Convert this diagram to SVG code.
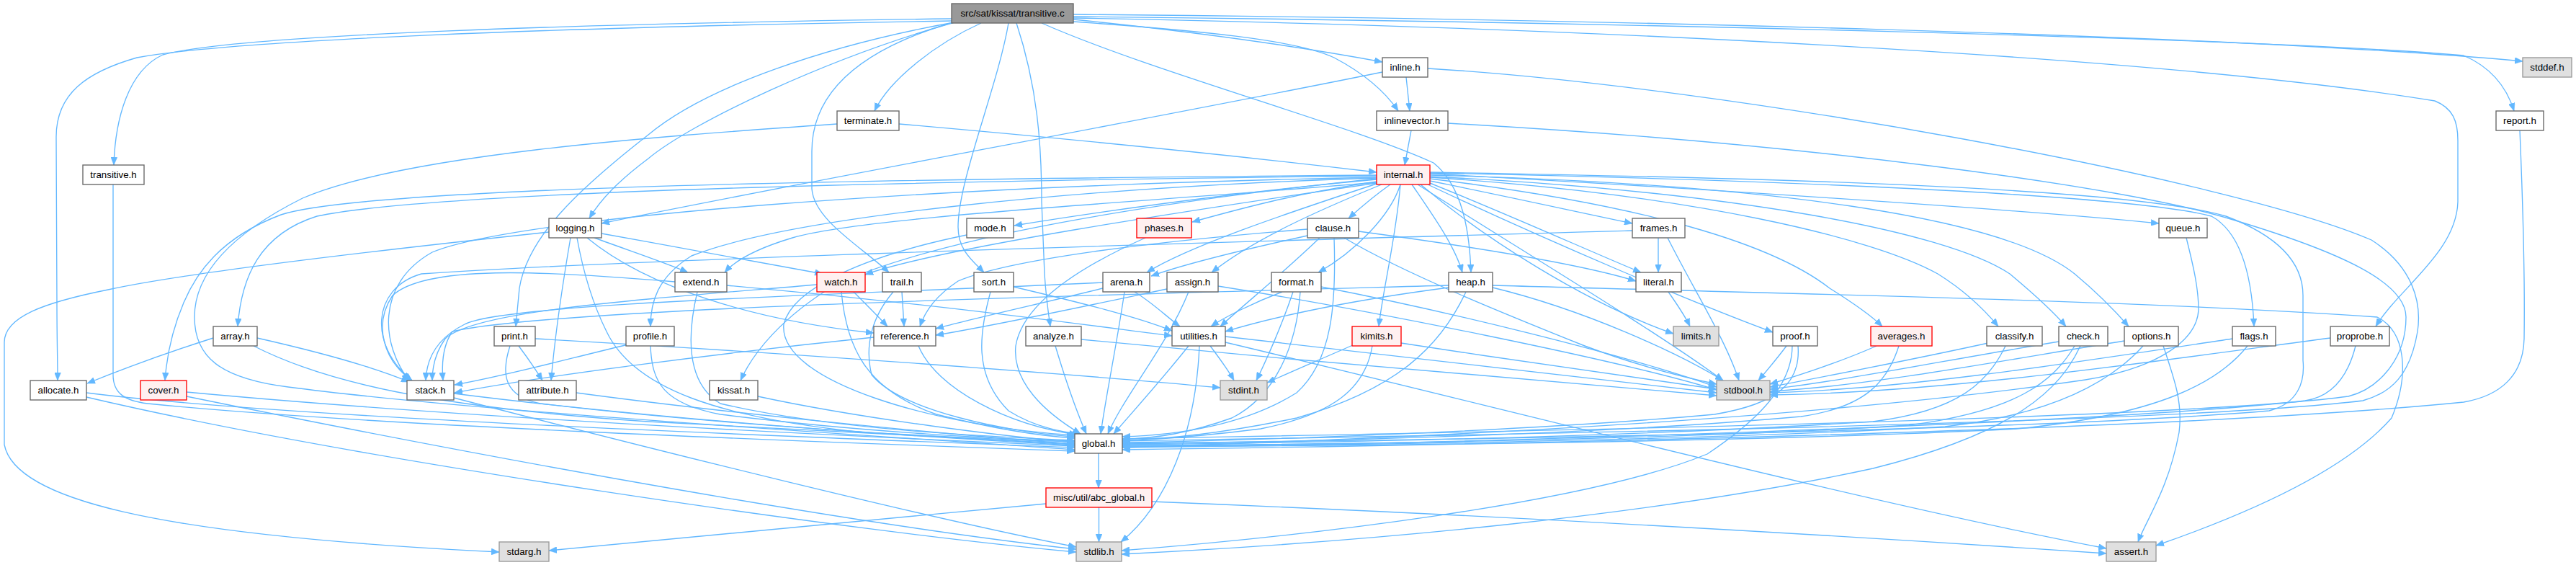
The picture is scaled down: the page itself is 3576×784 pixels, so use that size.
<svg xmlns="http://www.w3.org/2000/svg" width="3576" height="784" viewBox="0 0 3576 784">
<style>
.e path{fill:none;stroke:#63b8ff;stroke-width:1.35;marker-end:url(#ah)}
.n rect{fill:#fff;stroke:#666;stroke-width:1.35}
.r rect{fill:#fff0f0;stroke:#f00;stroke-width:1.35}
.g rect{fill:#e0e0e0;stroke:#999;stroke-width:1.35}
.t rect{fill:#999;stroke:#666;stroke-width:1.35}
text{font-family:"Liberation Sans",Arial,Helvetica,sans-serif;font-size:13.3px;fill:#000;text-anchor:middle}
</style>
<defs>
<marker id="ah" viewBox="0 0 11 9" refX="11" refY="4.5" markerWidth="11" markerHeight="9" markerUnits="userSpaceOnUse" orient="auto"><path d="M0,0 L11,4.5 L0,9 z" fill="#63b8ff" stroke="#63b8ff" stroke-width="0.5"/></marker>
</defs>
<rect width="3576" height="784" fill="#fff"/>
<g id="connectors" class="e">
<path d="M1321,26 C 800,33 330,48 226,76 C 178,98 160,165 158,229"/>
<path d="M1321,29 C 760,38 320,56 190,80 C 120,100 78,130 78,190 L 79,420 C 79,470 80,500 80,528"/>
<path d="M1325,31 C 1150,80 960,170 900,220 C 860,250 835,275 818,303"/>
<path d="M1330,30 C 1150,62 980,120 900,187 C 800,265 732,330 721,400 L 716,453"/>
<path d="M1362,32 C 1300,60 1235,110 1214,154"/>
<path d="M1323,31 C 1190,70 1127,130 1127,210 L 1127,262 C 1130,305 1195,342 1234,378"/>
<path d="M1400,32 C 1385,120 1330,250 1330,315 C 1330,347 1350,362 1366,378"/>
<path d="M1411,32 C 1440,120 1446,200 1446,280 L 1450,380 C 1452,412 1455,432 1458,453"/>
<path d="M1446,32 C 1600,100 1880,175 1990,226 C 2030,258 2040,320 2042,378"/>
<path d="M1490,27 C 1650,43 1800,64 1919,86"/>
<path d="M1490,30 C 1660,42 1800,55 1852,80 C 1890,100 1922,126 1941,154"/>
<path d="M1490,20 C 2200,26 3100,48 3502,85"/>
<path d="M1490,23 C 2200,30 3150,53 3420,77 C 3462,95 3481,125 3490,154"/>
<path d="M1490,25 C 2200,38 3000,78 3380,140 C 3405,150 3412,168 3412,195 L 3412,280 C 3410,350 3330,400 3298,453"/>
<path d="M1952,107 L1957,154"/>
<path d="M1919,100 C 1600,165 1100,255 835,310"/>
<path d="M1982,95 C 2400,120 3100,250 3292,333 C 3350,370 3362,420 3356,460 C 3346,520 3320,545 3280,556 C 3000,590 1900,606 1558,612"/>
<path d="M1959,181 L1950,229"/>
<path d="M2010,171 C 2500,198 2950,258 3100,305 C 3250,350 3340,392 3340,440 C 3340,500 3300,540 3260,550 C 3000,585 1900,602 1558,609"/>
<path d="M1248,172 C 1500,194 1750,220 1911,239"/>
<path d="M1162,172 C 900,190 560,215 420,275 C 320,325 270,380 270,440 C 270,495 305,525 400,537 C 650,570 1150,600 1492,624"/>
<path d="M157,256 L157,520 C 157,545 172,556 205,560 C 500,590 1100,612 1492,626"/>
<path d="M3498,181 C 3503,300 3505,400 3504,470 C 3503,520 3472,549 3420,558 C 3000,600 2000,618 1558,624"/>
<path d="M1911,249 C 1700,268 1500,298 1408,313"/>
<path d="M1911,252 C 1800,268 1720,290 1655,308"/>
<path d="M1930,256 C 1910,270 1892,285 1872,303"/>
<path d="M1985,251 C 2080,270 2180,292 2266,310"/>
<path d="M1911,255 C 1780,298 1650,342 1592,378"/>
<path d="M1918,256 C 1830,292 1740,332 1682,378"/>
<path d="M1944,256 C 1930,300 1880,350 1830,378"/>
<path d="M1960,256 C 1990,300 2020,342 2030,378"/>
<path d="M1985,254 C 2100,300 2210,350 2278,378"/>
<path d="M1911,253 C 1600,280 1200,300 1100,330 C 1050,345 1020,362 1006,378"/>
<path d="M1911,254 C 1650,292 1300,345 1201,381"/>
<path d="M1911,244 C 1400,250 620,262 440,300 C 360,325 335,385 330,453"/>
<path d="M1911,243 C 1400,247 520,255 390,298 C 305,330 272,380 255,420 C 238,460 231,500 229,528"/>
<path d="M1911,246 C 1300,258 720,300 600,350 C 520,395 530,480 568,528"/>
<path d="M1911,247 C 1500,260 1100,300 960,355 C 912,385 903,420 903,453"/>
<path d="M1944,256 C 1938,330 1920,400 1914,453"/>
<path d="M1911,248 C 1600,280 1300,330 1160,395 C 1085,440 1045,490 1028,528"/>
<path d="M1972,256 C 2060,330 2200,420 2323,463"/>
<path d="M1982,256 C 2150,335 2350,420 2461,461"/>
<path d="M1985,248 C 2250,280 2450,330 2540,400 C 2580,425 2600,440 2613,453"/>
<path d="M1985,246 C 2350,270 2600,330 2690,380 C 2730,405 2755,430 2774,453"/>
<path d="M1985,245 C 2400,265 2700,320 2790,380 C 2820,405 2850,432 2868,453"/>
<path d="M1985,243 C 2450,255 2780,300 2880,380 C 2910,405 2935,430 2955,453"/>
<path d="M1985,241 C 2300,258 2800,290 2997,310"/>
<path d="M1985,240 C 2400,248 2950,268 3070,300 C 3110,322 3126,380 3129,453"/>
<path d="M1985,239 C 2400,246 2950,258 3090,300 C 3170,330 3197,370 3197,410 L 3197,500 C 3200,530 3190,560 3150,570 C 2800,600 1900,612 1558,615"/>
<path d="M1968,256 C 2100,340 2300,460 2392,528"/>
<path d="M825,330 C 880,350 925,365 955,378"/>
<path d="M835,324 C 950,345 1080,368 1142,380"/>
<path d="M815,330 C 900,400 1050,445 1213,462"/>
<path d="M792,330 C 780,400 770,470 765,528"/>
<path d="M801,330 C 810,380 822,420 842,460 C 880,540 1000,580 1200,600 C 1350,608 1450,612 1492,613"/>
<path d="M762,322 C 500,350 250,380 150,402 C 60,420 6,440 6,475 L 6,617 C 20,690 200,742 693,766"/>
<path d="M1815,327 C 1710,350 1640,368 1598,383"/>
<path d="M1886,321 C 2050,343 2200,368 2271,390"/>
<path d="M1815,318 C 1600,335 1400,360 1330,390 C 1300,410 1285,430 1277,453"/>
<path d="M1832,330 C 1780,380 1730,420 1694,453"/>
<path d="M1866,330 C 1950,380 2100,440 2200,480 C 2280,510 2340,524 2383,533"/>
<path d="M1852,330 C 1855,420 1850,500 1800,545 C 1720,595 1620,604 1558,606"/>
<path d="M2302,330 L2302,378"/>
<path d="M2315,330 C 2350,400 2395,470 2414,528"/>
<path d="M2266,320 C 1800,333 900,358 585,380 C 515,400 512,480 572,528"/>
<path d="M2011,399 C 1850,420 1750,445 1701,460"/>
<path d="M2072,399 C 2200,430 2330,490 2392,528"/>
<path d="M2072,396 C 2500,408 3000,418 3300,440 C 3340,460 3345,520 3320,580 C 3250,660 3100,720 2993,757"/>
<path d="M2035,405 C 2000,480 1940,540 1800,580 C 1680,605 1600,610 1558,611"/>
<path d="M2011,396 C 1500,410 760,428 628,460 C 614,480 613,505 615,528"/>
<path d="M2316,405 C 2330,425 2340,440 2346,453"/>
<path d="M1531,400 C 1450,420 1350,442 1299,456"/>
<path d="M1575,405 C 1600,420 1620,440 1638,453"/>
<path d="M1561,405 C 1550,480 1535,550 1528,602"/>
<path d="M1531,392 C 1200,408 700,420 645,450 C 605,470 592,500 591,528"/>
<path d="M1620,401 C 1520,422 1380,452 1299,465"/>
<path d="M1691,397 C 1900,430 2250,500 2383,541"/>
<path d="M1650,405 C 1620,480 1560,550 1538,602"/>
<path d="M1780,405 C 1740,420 1700,440 1681,453"/>
<path d="M1795,405 C 1780,450 1758,500 1744,528"/>
<path d="M1834,398 C 2000,430 2250,490 2383,537"/>
<path d="M1805,405 C 1800,480 1770,550 1710,580 C 1640,605 1590,609 1558,609"/>
<path d="M937,391 C 750,375 590,368 545,410 C 518,450 532,500 572,528"/>
<path d="M1009,396 C 1300,422 1500,450 1627,466"/>
<path d="M968,405 C 955,460 950,530 1000,560 C 1150,595 1350,605 1492,611"/>
<path d="M1185,405 C 1200,420 1218,438 1232,453"/>
<path d="M1134,395 C 900,415 660,430 618,470 C 604,490 600,510 600,528"/>
<path d="M1168,405 C 1175,480 1200,540 1300,575 C 1400,600 1460,606 1492,608"/>
<path d="M1252,405 L1255,453"/>
<path d="M1240,405 C 1210,440 1200,480 1210,520 C 1250,570 1400,600 1492,606"/>
<path d="M1407,398 C 1500,420 1580,440 1627,459"/>
<path d="M1375,405 C 1360,460 1350,520 1400,570 C 1440,595 1480,600 1502,603"/>
<path d="M1342,326 C 1200,355 1100,400 1088,450 C 1080,530 1300,592 1492,604"/>
<path d="M1590,330 C 1500,370 1420,420 1410,480 C 1405,530 1450,572 1500,602"/>
<path d="M3035,330 C 3045,370 3052,400 3052,430 C 3050,470 3000,510 2895,527 C 2500,585 1900,610 1558,621"/>
<path d="M296,469 C 230,490 170,512 121,532"/>
<path d="M357,469 C 450,490 520,510 568,530"/>
<path d="M352,480 C 450,530 600,565 900,585 C 1200,600 1400,610 1492,616"/>
<path d="M720,480 C 735,500 745,515 753,528"/>
<path d="M743,470 C 1100,490 1500,520 1694,538"/>
<path d="M708,480 C 695,520 700,550 750,560 C 1000,590 1300,606 1492,617"/>
<path d="M872,478 C 780,500 700,522 631,534"/>
<path d="M903,480 C 905,530 920,560 1000,575 C 1200,600 1400,610 1492,612"/>
<path d="M1213,468 C 1000,490 750,522 631,545"/>
<path d="M1275,480 C 1300,540 1400,590 1495,603"/>
<path d="M1501,471 C 1800,500 2150,530 2383,549"/>
<path d="M1465,480 C 1480,530 1495,572 1508,602"/>
<path d="M1680,480 C 1695,500 1706,515 1713,528"/>
<path d="M1701,467 C 1900,490 2200,524 2383,545"/>
<path d="M1665,480 C 1660,600 1620,700 1556,752"/>
<path d="M1701,475 C 2100,570 2600,700 2924,761"/>
<path d="M1650,480 C 1610,530 1572,572 1546,602"/>
<path d="M1880,478 C 1830,500 1792,516 1759,531"/>
<path d="M1945,476 C 2100,500 2280,525 2383,540"/>
<path d="M1905,480 C 1895,540 1850,575 1750,595 C 1650,608 1590,610 1558,612"/>
<path d="M2480,480 C 2465,500 2452,515 2441,528"/>
<path d="M2488,480 C 2488,540 2430,590 2370,630 C 2200,700 1800,745 1557,764"/>
<path d="M2496,480 C 2500,530 2470,560 2380,575 C 2100,600 1700,612 1558,614"/>
<path d="M2605,480 C 2560,500 2500,520 2457,533"/>
<path d="M2636,480 C 2620,530 2590,565 2500,578 C 2200,605 1750,614 1558,616"/>
<path d="M2760,476 C 2650,500 2520,525 2457,537"/>
<path d="M2784,480 C 2760,530 2720,570 2600,585 C 2200,610 1750,615 1558,617"/>
<path d="M2858,474 C 2700,500 2550,530 2457,540"/>
<path d="M2880,480 C 2850,530 2800,570 2650,590 C 2300,612 1800,617 1558,618"/>
<path d="M2888,480 C 2860,540 2800,600 2600,650 C 2300,715 1900,752 1557,769"/>
<path d="M2949,473 C 2780,500 2600,535 2457,543"/>
<path d="M3003,480 C 3020,530 3030,560 3025,600 C 3010,680 2980,720 2968,752"/>
<path d="M2975,480 C 2930,530 2850,575 2700,592 C 2300,614 1800,618 1558,619"/>
<path d="M3099,470 C 2900,500 2650,540 2457,545"/>
<path d="M3120,480 C 3080,530 3000,575 2800,595 C 2400,615 1800,619 1558,620"/>
<path d="M3235,469 C 3000,500 2700,545 2457,548"/>
<path d="M3270,480 C 3260,520 3240,550 3200,556 C 2900,590 2000,616 1558,621"/>
<path d="M120,545 C 400,580 1100,606 1492,621"/>
<path d="M120,551 C 500,640 1200,740 1494,766"/>
<path d="M259,544 C 600,576 1100,602 1492,619"/>
<path d="M259,550 C 700,640 1200,730 1494,762"/>
<path d="M630,546 C 900,580 1200,602 1492,618"/>
<path d="M630,552 C 900,622 1300,722 1494,759"/>
<path d="M800,545 C 1000,572 1300,602 1492,616"/>
<path d="M1052,550 C 1200,582 1400,606 1492,614"/>
<path d="M1525,629 L1525,677"/>
<path d="M1452,699 C 1200,722 900,752 762,764"/>
<path d="M1525.5,704 L1525.5,752"/>
<path d="M1599,696 C 2100,716 2600,746 2924,768"/>
</g>
<g id="node-root" class="t"><rect x="1321" y="5" width="169" height="27"/><text x="1405.5" y="23.2">src/sat/kissat/transitive.c</text></g>
<g id="node-inline" class="n"><rect x="1919" y="80" width="63" height="27"/><text x="1950.5" y="98.2">inline.h</text></g>
<g id="node-stddef" class="g"><rect x="3502" y="80" width="68" height="27"/><text x="3536" y="98.2">stddef.h</text></g>
<g id="node-terminate" class="n"><rect x="1162" y="154" width="86" height="27"/><text x="1205" y="172.2">terminate.h</text></g>
<g id="node-inlinevector" class="n"><rect x="1911" y="154" width="99" height="27"/><text x="1960.5" y="172.2">inlinevector.h</text></g>
<g id="node-report" class="n"><rect x="3465" y="154" width="66" height="27"/><text x="3498" y="172.2">report.h</text></g>
<g id="node-transitive" class="n"><rect x="115" y="229" width="85" height="27"/><text x="157.5" y="247.2">transitive.h</text></g>
<g id="node-internal" class="r"><rect x="1911" y="229" width="74" height="27"/><text x="1948" y="247.2">internal.h</text></g>
<g id="node-logging" class="n"><rect x="762" y="303" width="73" height="27"/><text x="798.5" y="321.2">logging.h</text></g>
<g id="node-mode" class="n"><rect x="1342" y="303" width="65" height="27"/><text x="1374.5" y="321.2">mode.h</text></g>
<g id="node-phases" class="r"><rect x="1578" y="303" width="76" height="27"/><text x="1616" y="321.2">phases.h</text></g>
<g id="node-clause" class="n"><rect x="1815" y="303" width="71" height="27"/><text x="1850.5" y="321.2">clause.h</text></g>
<g id="node-frames" class="n"><rect x="2266" y="303" width="73" height="27"/><text x="2302.5" y="321.2">frames.h</text></g>
<g id="node-queue" class="n"><rect x="2997" y="303" width="67" height="27"/><text x="3030.5" y="321.2">queue.h</text></g>
<g id="node-extend" class="n"><rect x="937" y="378" width="72" height="27"/><text x="973" y="396.2">extend.h</text></g>
<g id="node-watch" class="r"><rect x="1134" y="378" width="67" height="27"/><text x="1167.5" y="396.2">watch.h</text></g>
<g id="node-trail" class="n"><rect x="1225" y="378" width="54" height="27"/><text x="1252" y="396.2">trail.h</text></g>
<g id="node-sort" class="n"><rect x="1352" y="378" width="55" height="27"/><text x="1379.5" y="396.2">sort.h</text></g>
<g id="node-arena" class="n"><rect x="1531" y="378" width="65" height="27"/><text x="1563.5" y="396.2">arena.h</text></g>
<g id="node-assign" class="n"><rect x="1620" y="378" width="71" height="27"/><text x="1655.5" y="396.2">assign.h</text></g>
<g id="node-format" class="n"><rect x="1765" y="378" width="69" height="27"/><text x="1799.5" y="396.2">format.h</text></g>
<g id="node-heap" class="n"><rect x="2011" y="378" width="61" height="27"/><text x="2041.5" y="396.2">heap.h</text></g>
<g id="node-literal" class="n"><rect x="2271" y="378" width="63" height="27"/><text x="2302.5" y="396.2">literal.h</text></g>
<g id="node-array" class="n"><rect x="296" y="453" width="61" height="27"/><text x="326.5" y="471.2">array.h</text></g>
<g id="node-print" class="n"><rect x="686" y="453" width="57" height="27"/><text x="714.5" y="471.2">print.h</text></g>
<g id="node-profile" class="n"><rect x="869" y="453" width="67" height="27"/><text x="902.5" y="471.2">profile.h</text></g>
<g id="node-reference" class="n"><rect x="1213" y="453" width="86" height="27"/><text x="1256" y="471.2">reference.h</text></g>
<g id="node-analyze" class="n"><rect x="1424" y="453" width="77" height="27"/><text x="1462.5" y="471.2">analyze.h</text></g>
<g id="node-utilities" class="n"><rect x="1627" y="453" width="74" height="27"/><text x="1664" y="471.2">utilities.h</text></g>
<g id="node-kimits" class="r"><rect x="1877" y="453" width="68" height="27"/><text x="1911" y="471.2">kimits.h</text></g>
<g id="node-limits" class="g"><rect x="2323" y="453" width="63" height="27"/><text x="2354.5" y="471.2">limits.h</text></g>
<g id="node-proof" class="n"><rect x="2461" y="453" width="62" height="27"/><text x="2492" y="471.2">proof.h</text></g>
<g id="node-averages" class="r"><rect x="2597" y="453" width="85" height="27"/><text x="2639.5" y="471.2">averages.h</text></g>
<g id="node-classify" class="n"><rect x="2758" y="453" width="77" height="27"/><text x="2796.5" y="471.2">classify.h</text></g>
<g id="node-check" class="n"><rect x="2858" y="453" width="68" height="27"/><text x="2892" y="471.2">check.h</text></g>
<g id="node-options" class="n"><rect x="2949" y="453" width="75" height="27"/><text x="2986.5" y="471.2">options.h</text></g>
<g id="node-flags" class="n"><rect x="3099" y="453" width="60" height="27"/><text x="3129" y="471.2">flags.h</text></g>
<g id="node-proprobe" class="n"><rect x="3235" y="453" width="82" height="27"/><text x="3276" y="471.2">proprobe.h</text></g>
<g id="node-allocate" class="n"><rect x="42" y="528" width="78" height="27"/><text x="81" y="546.2">allocate.h</text></g>
<g id="node-cover" class="r"><rect x="195" y="528" width="64" height="27"/><text x="227" y="546.2">cover.h</text></g>
<g id="node-stack" class="n"><rect x="565" y="528" width="65" height="27"/><text x="597.5" y="546.2">stack.h</text></g>
<g id="node-attribute" class="n"><rect x="720" y="528" width="80" height="27"/><text x="760" y="546.2">attribute.h</text></g>
<g id="node-kissat" class="n"><rect x="985" y="528" width="67" height="27"/><text x="1018.5" y="546.2">kissat.h</text></g>
<g id="node-stdint" class="g"><rect x="1694" y="528" width="65" height="27"/><text x="1726.5" y="546.2">stdint.h</text></g>
<g id="node-stdbool" class="g"><rect x="2383" y="528" width="74" height="27"/><text x="2420" y="546.2">stdbool.h</text></g>
<g id="node-global" class="n"><rect x="1492" y="602" width="66" height="27"/><text x="1525" y="620.2">global.h</text></g>
<g id="node-abc_global" class="r"><rect x="1452" y="677" width="147" height="27"/><text x="1525.5" y="695.2">misc/util/abc_global.h</text></g>
<g id="node-stdarg" class="g"><rect x="693" y="752" width="69" height="27"/><text x="727.5" y="770.2">stdarg.h</text></g>
<g id="node-stdlib" class="g"><rect x="1494" y="752" width="63" height="27"/><text x="1525.5" y="770.2">stdlib.h</text></g>
<g id="node-assert" class="g"><rect x="2924" y="752" width="69" height="27"/><text x="2958.5" y="770.2">assert.h</text></g>
</svg>
